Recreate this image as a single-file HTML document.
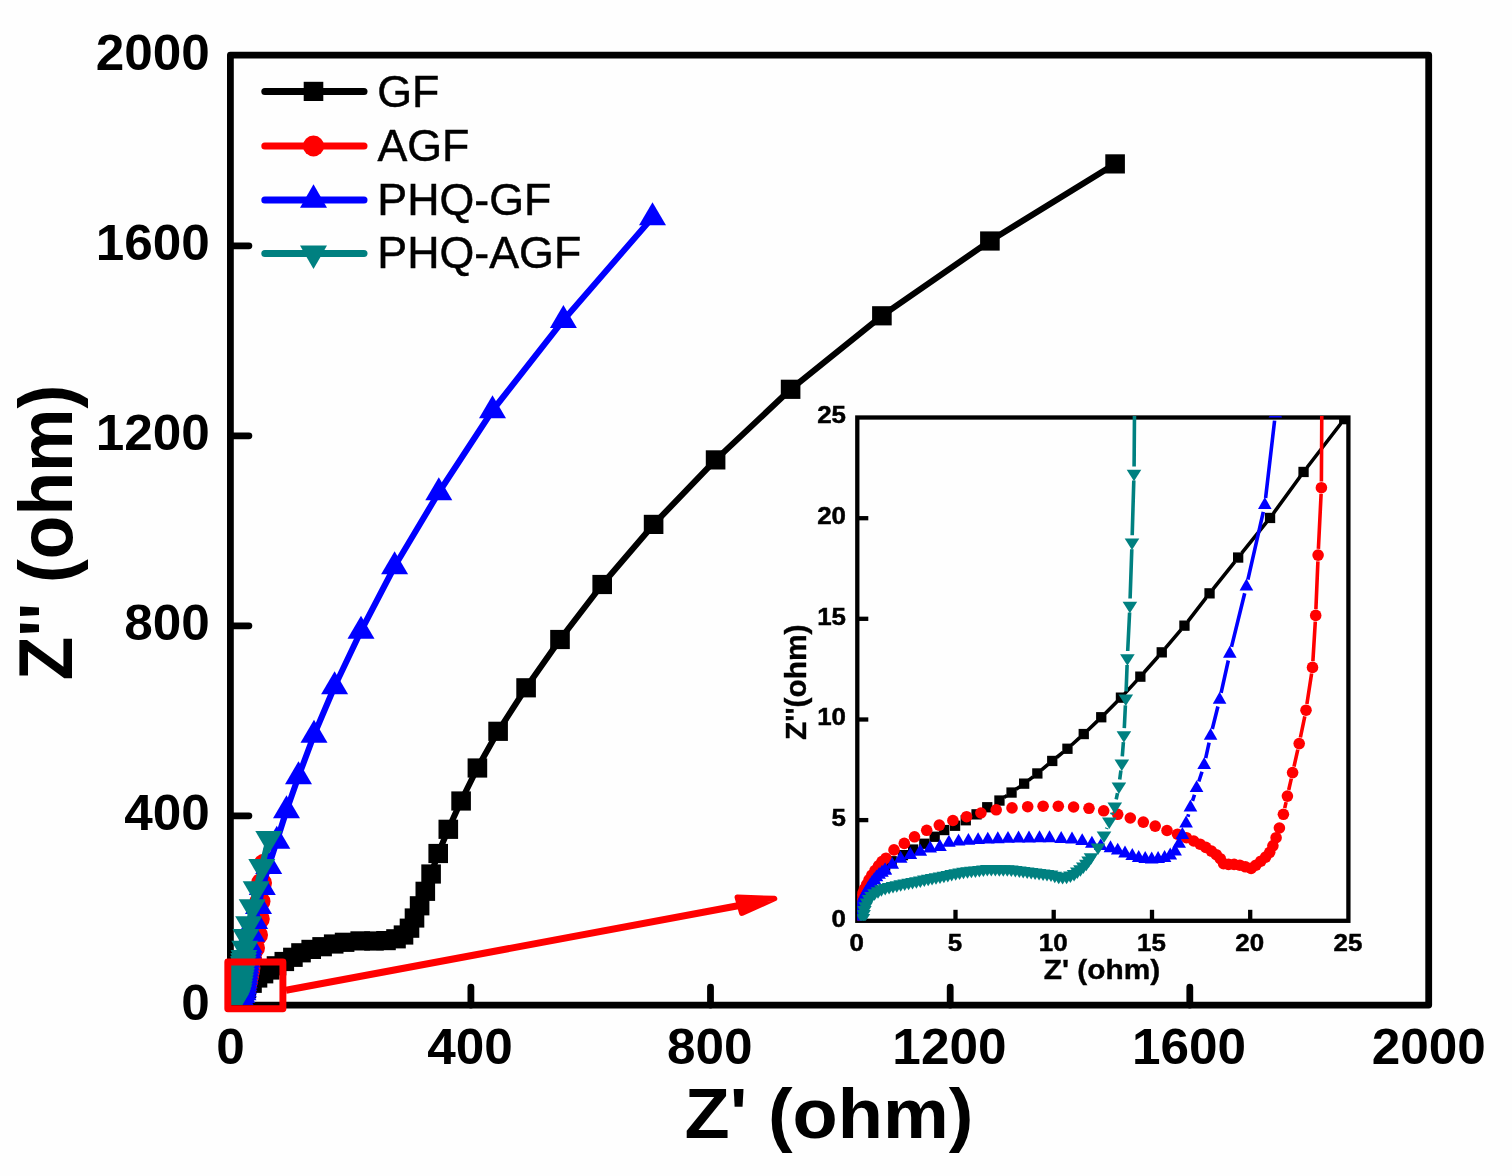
<!DOCTYPE html>
<html lang="en"><head><meta charset="utf-8"><title>Nyquist plot</title>
<style>
html,body{margin:0;padding:0;background:#fefefe;}
body{width:1512px;height:1176px;overflow:hidden;}
svg{display:block;}
</style></head><body>
<svg width="1512" height="1176" viewBox="0 0 1512 1176">
<rect width="1512" height="1176" fill="#fefefe"/>
<defs><clipPath id="cm"><rect x="230.4" y="55.1" width="1198.3" height="950"/></clipPath>
<clipPath id="ci"><rect x="857.3" y="416" width="492.6" height="504.8"/></clipPath></defs>
<g stroke="#000" stroke-width="6.8" fill="none" stroke-linecap="round" stroke-linejoin="round">
<rect x="230.4" y="55.1" width="1198.3" height="950"/>
<path d="M470.9 1005.1 V987.1"/>
<path d="M230.4 815.8 H248.9"/>
<path d="M710.5 1005.1 V987.1"/>
<path d="M230.4 625.8 H248.9"/>
<path d="M950.2 1005.1 V987.1"/>
<path d="M230.4 435.8 H248.9"/>
<path d="M1189.8 1005.1 V987.1"/>
<path d="M230.4 245.8 H248.9"/>
</g>
<g clip-path="url(#cm)">
<polyline points="1115.1,163.9 989.9,241 881.9,315.8 790.6,389.3 715.6,459.9 653.6,524.4 602.2,584.5 560,639.5 526.1,687.8 498.1,731.3 477.4,768 461.1,801 448.3,829.3 438.2,853.5 431.1,874 425.3,891.3 419.6,905.8 414.5,918 409.5,928.2 403.5,935 396,938.8 386,940.6 374,941 360.2,940.9 344.6,942.3 333.7,944 322.1,946.7 311.2,949.4 301,952.8 292.9,957.3 284.3,961.5 276.5,965.8 269.7,970 263.5,973.8 257.5,978 252,983.3 246.3,988.7 241,995 236,1001 232,1005" fill="none" stroke="#000" stroke-width="6.1" stroke-linejoin="round" stroke-linecap="round" />
<rect x="1105.3" y="154.3" width="19.6" height="19.2" fill="#000"/>
<rect x="980.1" y="231.4" width="19.6" height="19.2" fill="#000"/>
<rect x="872.1" y="306.2" width="19.6" height="19.2" fill="#000"/>
<rect x="780.8" y="379.7" width="19.6" height="19.2" fill="#000"/>
<rect x="705.8" y="450.3" width="19.6" height="19.2" fill="#000"/>
<rect x="643.8" y="514.8" width="19.6" height="19.2" fill="#000"/>
<rect x="592.4" y="574.9" width="19.6" height="19.2" fill="#000"/>
<rect x="550.2" y="629.9" width="19.6" height="19.2" fill="#000"/>
<rect x="516.3" y="678.2" width="19.6" height="19.2" fill="#000"/>
<rect x="488.3" y="721.7" width="19.6" height="19.2" fill="#000"/>
<rect x="467.6" y="758.4" width="19.6" height="19.2" fill="#000"/>
<rect x="451.3" y="791.4" width="19.6" height="19.2" fill="#000"/>
<rect x="438.5" y="819.7" width="19.6" height="19.2" fill="#000"/>
<rect x="428.4" y="843.9" width="19.6" height="19.2" fill="#000"/>
<rect x="421.3" y="864.4" width="19.6" height="19.2" fill="#000"/>
<rect x="415.5" y="881.7" width="19.6" height="19.2" fill="#000"/>
<rect x="409.8" y="896.2" width="19.6" height="19.2" fill="#000"/>
<rect x="404.7" y="908.4" width="19.6" height="19.2" fill="#000"/>
<rect x="399.7" y="918.6" width="19.6" height="19.2" fill="#000"/>
<rect x="393.7" y="925.4" width="19.6" height="19.2" fill="#000"/>
<rect x="386.2" y="929.2" width="19.6" height="19.2" fill="#000"/>
<rect x="376.2" y="931" width="19.6" height="19.2" fill="#000"/>
<rect x="364.2" y="931.4" width="19.6" height="19.2" fill="#000"/>
<rect x="350.4" y="931.3" width="19.6" height="19.2" fill="#000"/>
<rect x="334.8" y="932.7" width="19.6" height="19.2" fill="#000"/>
<rect x="323.9" y="934.4" width="19.6" height="19.2" fill="#000"/>
<rect x="312.3" y="937.1" width="19.6" height="19.2" fill="#000"/>
<rect x="301.4" y="939.8" width="19.6" height="19.2" fill="#000"/>
<rect x="291.2" y="943.2" width="19.6" height="19.2" fill="#000"/>
<rect x="283.1" y="947.7" width="19.6" height="19.2" fill="#000"/>
<rect x="274.5" y="951.9" width="19.6" height="19.2" fill="#000"/>
<rect x="266.7" y="956.2" width="19.6" height="19.2" fill="#000"/>
<rect x="259.9" y="960.4" width="19.6" height="19.2" fill="#000"/>
<rect x="253.7" y="964.2" width="19.6" height="19.2" fill="#000"/>
<rect x="247.7" y="968.4" width="19.6" height="19.2" fill="#000"/>
<rect x="242.2" y="973.7" width="19.6" height="19.2" fill="#000"/>
<rect x="236.5" y="979.1" width="19.6" height="19.2" fill="#000"/>
<rect x="234.6" y="981.4" width="19.6" height="19.2" fill="#000"/>
<rect x="232.6" y="983.7" width="19.6" height="19.2" fill="#000"/>
<rect x="230.7" y="986" width="19.6" height="19.2" fill="#000"/>
<rect x="228.8" y="988.3" width="19.6" height="19.2" fill="#000"/>
<rect x="226.9" y="990.6" width="19.6" height="19.2" fill="#000"/>
<rect x="224.8" y="992.8" width="19.6" height="19.2" fill="#000"/>
<rect x="222.7" y="994.9" width="19.6" height="19.2" fill="#000"/>
<polyline points="264,864 261.5,883 260,901.5 259.3,919 257.5,935 254.5,948 251.5,958 250,968 247.5,981 244.6,993 238,1001 231,1005" fill="none" stroke="#ff0000" stroke-width="6.1" stroke-linejoin="round" stroke-linecap="round" />
<ellipse cx="264" cy="864" rx="10.5" ry="10.3" fill="#ff0000"/>
<ellipse cx="261.5" cy="883" rx="10.5" ry="10.3" fill="#ff0000"/>
<ellipse cx="260" cy="901.5" rx="10.5" ry="10.3" fill="#ff0000"/>
<ellipse cx="259.3" cy="919" rx="10.5" ry="10.3" fill="#ff0000"/>
<ellipse cx="257.5" cy="935" rx="10.5" ry="10.3" fill="#ff0000"/>
<ellipse cx="254.5" cy="948" rx="10.5" ry="10.3" fill="#ff0000"/>
<ellipse cx="251.5" cy="958" rx="10.5" ry="10.3" fill="#ff0000"/>
<ellipse cx="250" cy="968" rx="10.5" ry="10.3" fill="#ff0000"/>
<ellipse cx="249.4" cy="970.9" rx="10.5" ry="10.3" fill="#ff0000"/>
<ellipse cx="248.9" cy="973.9" rx="10.5" ry="10.3" fill="#ff0000"/>
<ellipse cx="248.3" cy="976.8" rx="10.5" ry="10.3" fill="#ff0000"/>
<ellipse cx="247.7" cy="979.8" rx="10.5" ry="10.3" fill="#ff0000"/>
<ellipse cx="247.1" cy="982.7" rx="10.5" ry="10.3" fill="#ff0000"/>
<ellipse cx="246.4" cy="985.6" rx="10.5" ry="10.3" fill="#ff0000"/>
<ellipse cx="245.7" cy="988.5" rx="10.5" ry="10.3" fill="#ff0000"/>
<ellipse cx="245" cy="991.5" rx="10.5" ry="10.3" fill="#ff0000"/>
<ellipse cx="243.7" cy="994.1" rx="10.5" ry="10.3" fill="#ff0000"/>
<ellipse cx="241.8" cy="996.4" rx="10.5" ry="10.3" fill="#ff0000"/>
<ellipse cx="239.9" cy="998.7" rx="10.5" ry="10.3" fill="#ff0000"/>
<ellipse cx="238" cy="1001" rx="10.5" ry="10.3" fill="#ff0000"/>
<ellipse cx="235.4" cy="1002.5" rx="10.5" ry="10.3" fill="#ff0000"/>
<ellipse cx="232.8" cy="1004" rx="10.5" ry="10.3" fill="#ff0000"/>
<polyline points="652.5,217.5 563.4,320.2 492.5,410.5 438.8,492.5 394.6,566.5 361,631 334.6,686.5 314,735 298.5,776.5 286.5,810.5 276.8,841 268.7,866.4 262.3,887.3 258.5,906.3 254.6,921.3 251.7,934 249.2,945 246.5,962 244.5,978 243,993 239,1001 231,1005" fill="none" stroke="#0000ff" stroke-width="6.1" stroke-linejoin="round" stroke-linecap="round" />
<polygon points="652.5,202.2 639,225.2 666,225.2" fill="#0000ff"/>
<polygon points="563.4,304.9 549.9,327.9 576.9,327.9" fill="#0000ff"/>
<polygon points="492.5,395.2 479,418.2 506,418.2" fill="#0000ff"/>
<polygon points="438.8,477.2 425.3,500.2 452.3,500.2" fill="#0000ff"/>
<polygon points="394.6,551.2 381.1,574.2 408.1,574.2" fill="#0000ff"/>
<polygon points="361,615.7 347.5,638.7 374.5,638.7" fill="#0000ff"/>
<polygon points="334.6,671.2 321.1,694.2 348.1,694.2" fill="#0000ff"/>
<polygon points="314,719.7 300.5,742.7 327.5,742.7" fill="#0000ff"/>
<polygon points="298.5,761.2 285,784.2 312,784.2" fill="#0000ff"/>
<polygon points="286.5,795.2 273,818.2 300,818.2" fill="#0000ff"/>
<polygon points="276.8,825.7 263.3,848.7 290.3,848.7" fill="#0000ff"/>
<polygon points="268.7,851.1 255.2,874.1 282.2,874.1" fill="#0000ff"/>
<polygon points="262.3,872 248.8,895 275.8,895" fill="#0000ff"/>
<polygon points="258.5,891 245,914 272,914" fill="#0000ff"/>
<polygon points="254.6,906 241.1,929 268.1,929" fill="#0000ff"/>
<polygon points="251.7,918.7 238.2,941.7 265.2,941.7" fill="#0000ff"/>
<polygon points="249.2,929.7 235.7,952.7 262.7,952.7" fill="#0000ff"/>
<polygon points="248.7,932.6 235.2,955.6 262.2,955.6" fill="#0000ff"/>
<polygon points="248.3,935.6 234.8,958.6 261.8,958.6" fill="#0000ff"/>
<polygon points="247.8,938.6 234.3,961.6 261.3,961.6" fill="#0000ff"/>
<polygon points="247.3,941.5 233.8,964.5 260.8,964.5" fill="#0000ff"/>
<polygon points="246.8,944.5 233.3,967.5 260.3,967.5" fill="#0000ff"/>
<polygon points="246.4,947.4 232.9,970.4 259.9,970.4" fill="#0000ff"/>
<polygon points="246,950.4 232.5,973.4 259.5,973.4" fill="#0000ff"/>
<polygon points="245.7,953.4 232.2,976.4 259.2,976.4" fill="#0000ff"/>
<polygon points="245.3,956.4 231.8,979.4 258.8,979.4" fill="#0000ff"/>
<polygon points="244.9,959.4 231.4,982.4 258.4,982.4" fill="#0000ff"/>
<polygon points="244.5,962.3 231,985.3 258,985.3" fill="#0000ff"/>
<polygon points="244.2,965.3 230.7,988.3 257.7,988.3" fill="#0000ff"/>
<polygon points="243.9,968.3 230.4,991.3 257.4,991.3" fill="#0000ff"/>
<polygon points="243.6,971.3 230.1,994.3 257.1,994.3" fill="#0000ff"/>
<polygon points="243.3,974.3 229.8,997.3 256.8,997.3" fill="#0000ff"/>
<polygon points="243,977.3 229.5,1000.3 256.5,1000.3" fill="#0000ff"/>
<polygon points="241.8,980 228.3,1003 255.3,1003" fill="#0000ff"/>
<polygon points="240.5,982.7 227,1005.7 254,1005.7" fill="#0000ff"/>
<polygon points="239.2,985.3 225.7,1008.3 252.7,1008.3" fill="#0000ff"/>
<polygon points="236.6,986.8 223.1,1009.8 250.1,1009.8" fill="#0000ff"/>
<polygon points="234,988.2 220.5,1011.2 247.5,1011.2" fill="#0000ff"/>
<polygon points="231.3,989.5 217.8,1012.5 244.8,1012.5" fill="#0000ff"/>
<polyline points="268.8,838.7 261.8,866.8 256.2,889 252.2,907 248.7,924 246,936.6 244.8,948.5 243.9,957.7 242,972 240,985 238.8,993 236,1001 231,1005" fill="none" stroke="#008080" stroke-width="6.1" stroke-linejoin="round" stroke-linecap="round" />
<polygon points="268.8,854 255.3,831 282.3,831" fill="#008080"/>
<polygon points="261.8,882.1 248.3,859.1 275.3,859.1" fill="#008080"/>
<polygon points="256.2,904.3 242.7,881.3 269.7,881.3" fill="#008080"/>
<polygon points="252.2,922.3 238.7,899.3 265.7,899.3" fill="#008080"/>
<polygon points="248.7,939.3 235.2,916.3 262.2,916.3" fill="#008080"/>
<polygon points="246,951.9 232.5,928.9 259.5,928.9" fill="#008080"/>
<polygon points="244.8,963.8 231.3,940.8 258.3,940.8" fill="#008080"/>
<polygon points="243.9,973 230.4,950 257.4,950" fill="#008080"/>
<polygon points="243.5,976 230,953 257,953" fill="#008080"/>
<polygon points="243.1,979 229.6,956 256.6,956" fill="#008080"/>
<polygon points="242.7,982 229.2,959 256.2,959" fill="#008080"/>
<polygon points="242.3,984.9 228.8,961.9 255.8,961.9" fill="#008080"/>
<polygon points="241.9,987.9 228.4,964.9 255.4,964.9" fill="#008080"/>
<polygon points="241.5,990.9 228,967.9 255,967.9" fill="#008080"/>
<polygon points="241,993.8 227.5,970.8 254.5,970.8" fill="#008080"/>
<polygon points="240.5,996.8 227,973.8 254,973.8" fill="#008080"/>
<polygon points="240.1,999.8 226.6,976.8 253.6,976.8" fill="#008080"/>
<polygon points="239.6,1002.7 226.1,979.7 253.1,979.7" fill="#008080"/>
<polygon points="239.2,1005.7 225.7,982.7 252.7,982.7" fill="#008080"/>
<polygon points="238.7,1008.6 225.2,985.6 252.2,985.6" fill="#008080"/>
<polygon points="237.7,1011.5 224.2,988.5 251.2,988.5" fill="#008080"/>
<polygon points="236.7,1014.3 223.2,991.3 250.2,991.3" fill="#008080"/>
<polygon points="235.3,1016.9 221.8,993.9 248.8,993.9" fill="#008080"/>
<polygon points="233,1018.7 219.5,995.7 246.5,995.7" fill="#008080"/>
</g>
<rect x="227.8" y="962" width="55.1" height="46.8" fill="none" stroke="#ff0000" stroke-width="6.9" stroke-linejoin="round"/>
<path d="M286 990.3 L742 905" stroke="#ff0000" stroke-width="7" fill="none"/>
<polygon points="774.5,898.6 737.3,897.2 741.8,913.2" fill="#ff0000" stroke="#ff0000" stroke-width="5.5" stroke-linejoin="round"/>
<g stroke="#000" stroke-width="4.3" fill="none">
<rect x="857.3" y="417.5" width="491.1" height="503.3"/>
<path d="M955.5 920.8 V909.8"/>
<path d="M857.3 820.1 H868.3"/>
<path d="M1053.7 920.8 V909.8"/>
<path d="M857.3 719.5 H868.3"/>
<path d="M1152 920.8 V909.8"/>
<path d="M857.3 618.8 H868.3"/>
<path d="M1250.2 920.8 V909.8"/>
<path d="M857.3 518.2 H868.3"/>
</g>
<g clip-path="url(#ci)">
<path d="M1004 797.5L1007 795.6M1016 789.3L1019.7 786.8M1028.5 780.3L1033 776.8M1041.6 769.9L1048.1 764.4M1056.6 757.5L1063.2 752.1M1071.6 745L1079.7 737.7M1087.8 730.2L1097.3 721.1M1105.2 713.4L1117.1 701.5M1124.7 693.6L1136.7 680.6M1144 672.5L1158.2 656.5M1165.4 648.2L1180.9 629.8M1187.9 621.3L1206.2 597.7M1213 589.1L1234.8 561.8M1241.7 553.2L1266.6 522.2M1273.3 513.5L1300.4 476.3M1307 467.5L1340.9 423.5" fill="none" stroke="#000" stroke-width="3.6"/>
<rect x="856.2" y="906.1" width="10.3" height="10.3" fill="#000"/>
<rect x="858.6" y="898" width="10.3" height="10.3" fill="#000"/>
<rect x="861.8" y="889.9" width="10.3" height="10.3" fill="#000"/>
<rect x="866.7" y="883.5" width="10.3" height="10.3" fill="#000"/>
<rect x="864.9" y="877.9" width="10.3" height="10.3" fill="#000"/>
<rect x="869.1" y="872" width="10.3" height="10.3" fill="#000"/>
<rect x="873.9" y="865.9" width="10.3" height="10.3" fill="#000"/>
<rect x="880" y="860.4" width="10.3" height="10.3" fill="#000"/>
<rect x="886.5" y="856.1" width="10.3" height="10.3" fill="#000"/>
<rect x="897.8" y="850" width="10.3" height="10.3" fill="#000"/>
<rect x="908" y="844.4" width="10.3" height="10.3" fill="#000"/>
<rect x="919.2" y="838.6" width="10.3" height="10.3" fill="#000"/>
<rect x="929.5" y="831.6" width="10.3" height="10.3" fill="#000"/>
<rect x="939.1" y="824.9" width="10.3" height="10.3" fill="#000"/>
<rect x="949.9" y="820.6" width="10.3" height="10.3" fill="#000"/>
<rect x="960.6" y="815.1" width="10.3" height="10.3" fill="#000"/>
<rect x="971.4" y="809.2" width="10.3" height="10.3" fill="#000"/>
<rect x="982.1" y="802.1" width="10.3" height="10.3" fill="#000"/>
<rect x="994.3" y="795.4" width="10.3" height="10.3" fill="#000"/>
<rect x="1006.4" y="787.4" width="10.3" height="10.3" fill="#000"/>
<rect x="1019" y="778.5" width="10.3" height="10.3" fill="#000"/>
<rect x="1032.2" y="768.3" width="10.3" height="10.3" fill="#000"/>
<rect x="1047.1" y="755.8" width="10.3" height="10.3" fill="#000"/>
<rect x="1062.3" y="743.6" width="10.3" height="10.3" fill="#000"/>
<rect x="1078.6" y="728.9" width="10.3" height="10.3" fill="#000"/>
<rect x="1096.1" y="712.1" width="10.3" height="10.3" fill="#000"/>
<rect x="1115.8" y="692.5" width="10.3" height="10.3" fill="#000"/>
<rect x="1135.2" y="671.5" width="10.3" height="10.3" fill="#000"/>
<rect x="1156.6" y="647.2" width="10.3" height="10.3" fill="#000"/>
<rect x="1179.3" y="620.5" width="10.3" height="10.3" fill="#000"/>
<rect x="1204.4" y="588.2" width="10.3" height="10.3" fill="#000"/>
<rect x="1233" y="552.4" width="10.3" height="10.3" fill="#000"/>
<rect x="1264.9" y="512.8" width="10.3" height="10.3" fill="#000"/>
<rect x="1298.4" y="466.8" width="10.3" height="10.3" fill="#000"/>
<rect x="1339.1" y="414" width="10.3" height="10.3" fill="#000"/>
<path d="M1284.7 808.2L1286.1 802.2M1288.7 790L1291.3 778.7M1294 766.6L1297.8 749.6M1300.4 737.5L1304.8 716.3M1306.9 704.1L1311.6 673.5M1312.9 661.2L1315.3 621.6M1315.9 609.2L1317.9 561.3M1318.4 548.9L1321.1 493.9M1321.4 481.5L1321.8 411.2" fill="none" stroke="#ff0000" stroke-width="3.6"/>
<ellipse cx="857.5" cy="917" rx="5.8" ry="5.8" fill="#ff0000"/>
<ellipse cx="857.8" cy="909" rx="5.8" ry="5.8" fill="#ff0000"/>
<ellipse cx="859" cy="903.3" rx="5.8" ry="5.8" fill="#ff0000"/>
<ellipse cx="860.5" cy="898.6" rx="5.8" ry="5.8" fill="#ff0000"/>
<ellipse cx="862.5" cy="893.9" rx="5.8" ry="5.8" fill="#ff0000"/>
<ellipse cx="864.3" cy="889.2" rx="5.8" ry="5.8" fill="#ff0000"/>
<ellipse cx="866.7" cy="884.5" rx="5.8" ry="5.8" fill="#ff0000"/>
<ellipse cx="869" cy="879.9" rx="5.8" ry="5.8" fill="#ff0000"/>
<ellipse cx="871.8" cy="875.2" rx="5.8" ry="5.8" fill="#ff0000"/>
<ellipse cx="875" cy="870.5" rx="5.8" ry="5.8" fill="#ff0000"/>
<ellipse cx="878.5" cy="865.8" rx="5.8" ry="5.8" fill="#ff0000"/>
<ellipse cx="882" cy="861.6" rx="5.8" ry="5.8" fill="#ff0000"/>
<ellipse cx="886" cy="858.2" rx="5.8" ry="5.8" fill="#ff0000"/>
<ellipse cx="894" cy="849.9" rx="5.8" ry="5.8" fill="#ff0000"/>
<ellipse cx="904.3" cy="843.4" rx="5.8" ry="5.8" fill="#ff0000"/>
<ellipse cx="914.5" cy="836.8" rx="5.8" ry="5.8" fill="#ff0000"/>
<ellipse cx="926.7" cy="830.3" rx="5.8" ry="5.8" fill="#ff0000"/>
<ellipse cx="939.3" cy="825.1" rx="5.8" ry="5.8" fill="#ff0000"/>
<ellipse cx="952.9" cy="820.5" rx="5.8" ry="5.8" fill="#ff0000"/>
<ellipse cx="966.6" cy="816.7" rx="5.8" ry="5.8" fill="#ff0000"/>
<ellipse cx="980.9" cy="813" rx="5.8" ry="5.8" fill="#ff0000"/>
<ellipse cx="996.2" cy="809.8" rx="5.8" ry="5.8" fill="#ff0000"/>
<ellipse cx="1012" cy="807.9" rx="5.8" ry="5.8" fill="#ff0000"/>
<ellipse cx="1027.7" cy="806.7" rx="5.8" ry="5.8" fill="#ff0000"/>
<ellipse cx="1043.1" cy="806.2" rx="5.8" ry="5.8" fill="#ff0000"/>
<ellipse cx="1058.3" cy="806.2" rx="5.8" ry="5.8" fill="#ff0000"/>
<ellipse cx="1073.6" cy="807" rx="5.8" ry="5.8" fill="#ff0000"/>
<ellipse cx="1089" cy="808.3" rx="5.8" ry="5.8" fill="#ff0000"/>
<ellipse cx="1103.7" cy="810.8" rx="5.8" ry="5.8" fill="#ff0000"/>
<ellipse cx="1117.7" cy="814.3" rx="5.8" ry="5.8" fill="#ff0000"/>
<ellipse cx="1130.3" cy="818" rx="5.8" ry="5.8" fill="#ff0000"/>
<ellipse cx="1143.3" cy="822.1" rx="5.8" ry="5.8" fill="#ff0000"/>
<ellipse cx="1155.2" cy="826.1" rx="5.8" ry="5.8" fill="#ff0000"/>
<ellipse cx="1167" cy="830.5" rx="5.8" ry="5.8" fill="#ff0000"/>
<ellipse cx="1177.5" cy="834.2" rx="5.8" ry="5.8" fill="#ff0000"/>
<ellipse cx="1186.4" cy="837.7" rx="5.8" ry="5.8" fill="#ff0000"/>
<ellipse cx="1193.7" cy="841" rx="5.8" ry="5.8" fill="#ff0000"/>
<ellipse cx="1200.1" cy="844.2" rx="5.8" ry="5.8" fill="#ff0000"/>
<ellipse cx="1205.8" cy="847.4" rx="5.8" ry="5.8" fill="#ff0000"/>
<ellipse cx="1211.4" cy="851.1" rx="5.8" ry="5.8" fill="#ff0000"/>
<ellipse cx="1216.3" cy="854.7" rx="5.8" ry="5.8" fill="#ff0000"/>
<ellipse cx="1220.3" cy="858.7" rx="5.8" ry="5.8" fill="#ff0000"/>
<ellipse cx="1223.6" cy="863.6" rx="5.8" ry="5.8" fill="#ff0000"/>
<ellipse cx="1228.5" cy="864.4" rx="5.8" ry="5.8" fill="#ff0000"/>
<ellipse cx="1234.1" cy="864.4" rx="5.8" ry="5.8" fill="#ff0000"/>
<ellipse cx="1239.8" cy="865.2" rx="5.8" ry="5.8" fill="#ff0000"/>
<ellipse cx="1245.4" cy="866.8" rx="5.8" ry="5.8" fill="#ff0000"/>
<ellipse cx="1251.1" cy="868.4" rx="5.8" ry="5.8" fill="#ff0000"/>
<ellipse cx="1255.9" cy="865.2" rx="5.8" ry="5.8" fill="#ff0000"/>
<ellipse cx="1260.8" cy="861.2" rx="5.8" ry="5.8" fill="#ff0000"/>
<ellipse cx="1265.6" cy="857.1" rx="5.8" ry="5.8" fill="#ff0000"/>
<ellipse cx="1269.7" cy="852.3" rx="5.8" ry="5.8" fill="#ff0000"/>
<ellipse cx="1272.9" cy="845.8" rx="5.8" ry="5.8" fill="#ff0000"/>
<ellipse cx="1276.1" cy="837.7" rx="5.8" ry="5.8" fill="#ff0000"/>
<ellipse cx="1279.4" cy="828" rx="5.8" ry="5.8" fill="#ff0000"/>
<ellipse cx="1283.4" cy="814.3" rx="5.8" ry="5.8" fill="#ff0000"/>
<ellipse cx="1287.4" cy="796.1" rx="5.8" ry="5.8" fill="#ff0000"/>
<ellipse cx="1292.6" cy="772.6" rx="5.8" ry="5.8" fill="#ff0000"/>
<ellipse cx="1299.2" cy="743.6" rx="5.8" ry="5.8" fill="#ff0000"/>
<ellipse cx="1306" cy="710.2" rx="5.8" ry="5.8" fill="#ff0000"/>
<ellipse cx="1312.5" cy="667.4" rx="5.8" ry="5.8" fill="#ff0000"/>
<ellipse cx="1315.7" cy="615.4" rx="5.8" ry="5.8" fill="#ff0000"/>
<ellipse cx="1318.1" cy="555.1" rx="5.8" ry="5.8" fill="#ff0000"/>
<ellipse cx="1321.4" cy="487.7" rx="5.8" ry="5.8" fill="#ff0000"/>
<path d="M1187.9 816.8L1188.6 814.3M1192.5 800.9L1194.5 794.8M1198.8 781.5L1202 771.7M1205.7 758.2L1209.1 742.6M1212.3 729L1217.9 706.5M1221.1 692.9L1228.3 660.5M1231.5 646.9L1244.7 593.3M1247.9 579.7L1263.3 511.8M1265.6 498L1274.6 420.6" fill="none" stroke="#0000ff" stroke-width="3.6"/>
<polygon points="857,911.3 850.1,923.2 863.9,923.2" fill="#0000ff"/>
<polygon points="857.7,907.7 850.9,919.6 864.6,919.6" fill="#0000ff"/>
<polygon points="858.5,904.2 851.7,916.1 865.4,916.1" fill="#0000ff"/>
<polygon points="859.4,900.7 852.5,912.6 866.2,912.6" fill="#0000ff"/>
<polygon points="860.4,897.3 853.6,909.2 867.3,909.2" fill="#0000ff"/>
<polygon points="861.7,893.9 854.8,905.8 868.5,905.8" fill="#0000ff"/>
<polygon points="863.1,890.6 856.2,902.5 869.9,902.5" fill="#0000ff"/>
<polygon points="864.6,887.4 857.8,899.3 871.5,899.3" fill="#0000ff"/>
<polygon points="866.3,884.2 859.5,896.1 873.2,896.1" fill="#0000ff"/>
<polygon points="868.1,881.1 861.2,893 874.9,893" fill="#0000ff"/>
<polygon points="870,878 863.2,889.9 876.9,889.9" fill="#0000ff"/>
<polygon points="872.1,875 865.2,886.9 878.9,886.9" fill="#0000ff"/>
<polygon points="874.2,872.2 867.4,884.1 881.1,884.1" fill="#0000ff"/>
<polygon points="876.5,869.4 869.6,881.3 883.3,881.3" fill="#0000ff"/>
<polygon points="879.1,866.9 872.2,878.8 885.9,878.8" fill="#0000ff"/>
<polygon points="882,864.8 875.1,876.7 888.8,876.7" fill="#0000ff"/>
<polygon points="884.9,862.7 878,874.6 891.7,874.6" fill="#0000ff"/>
<polygon points="885.2,862.5 878.4,874.4 892.1,874.4" fill="#0000ff"/>
<polygon points="892.2,856.9 885.4,868.8 899.1,868.8" fill="#0000ff"/>
<polygon points="900.6,850.8 893.8,862.7 907.5,862.7" fill="#0000ff"/>
<polygon points="910.4,847.1 903.5,859 917.2,859" fill="#0000ff"/>
<polygon points="920.3,843.8 913.4,855.7 927.1,855.7" fill="#0000ff"/>
<polygon points="930.1,840.5 923.2,852.4 937,852.4" fill="#0000ff"/>
<polygon points="939.9,839.1 933,851 946.8,851" fill="#0000ff"/>
<polygon points="948.9,834.8 942,846.7 955.7,846.7" fill="#0000ff"/>
<polygon points="958.6,833.7 951.7,845.6 965.4,845.6" fill="#0000ff"/>
<polygon points="968.4,832.9 961.6,844.8 975.3,844.8" fill="#0000ff"/>
<polygon points="978.1,832.2 971.3,844.1 985,844.1" fill="#0000ff"/>
<polygon points="987.8,831.7 981,843.6 994.7,843.6" fill="#0000ff"/>
<polygon points="997.8,831.3 991,843.2 1004.7,843.2" fill="#0000ff"/>
<polygon points="1008,830.9 1001.1,842.8 1014.8,842.8" fill="#0000ff"/>
<polygon points="1018.5,830.6 1011.6,842.5 1025.3,842.5" fill="#0000ff"/>
<polygon points="1029,830.5 1022.1,842.4 1035.8,842.4" fill="#0000ff"/>
<polygon points="1039.5,830.3 1032.6,842.2 1046.3,842.2" fill="#0000ff"/>
<polygon points="1049.5,830.3 1042.7,842.2 1056.4,842.2" fill="#0000ff"/>
<polygon points="1061.2,831.1 1054.3,843 1068,843" fill="#0000ff"/>
<polygon points="1072,831.6 1065.2,843.5 1078.9,843.5" fill="#0000ff"/>
<polygon points="1082.2,833.2 1075.3,845.1 1089,845.1" fill="#0000ff"/>
<polygon points="1091.9,835.8 1085,847.7 1098.7,847.7" fill="#0000ff"/>
<polygon points="1100.8,838.2 1093.9,850.1 1107.6,850.1" fill="#0000ff"/>
<polygon points="1110.5,840.3 1103.6,852.2 1117.3,852.2" fill="#0000ff"/>
<polygon points="1117.7,842.7 1110.9,854.6 1124.6,854.6" fill="#0000ff"/>
<polygon points="1125,845.6 1118.2,857.5 1131.9,857.5" fill="#0000ff"/>
<polygon points="1132.3,848.1 1125.4,860 1139.1,860" fill="#0000ff"/>
<polygon points="1138.7,850 1131.9,861.9 1145.6,861.9" fill="#0000ff"/>
<polygon points="1145.2,851.1 1138.4,863 1152.1,863" fill="#0000ff"/>
<polygon points="1151.7,851.6 1144.8,863.5 1158.5,863.5" fill="#0000ff"/>
<polygon points="1158.1,851.1 1151.3,863 1165,863" fill="#0000ff"/>
<polygon points="1164.6,850 1157.7,861.9 1171.4,861.9" fill="#0000ff"/>
<polygon points="1170.2,847.6 1163.4,859.5 1177.1,859.5" fill="#0000ff"/>
<polygon points="1175.1,843.5 1168.2,855.4 1181.9,855.4" fill="#0000ff"/>
<polygon points="1179.1,835.9 1172.3,847.8 1186,847.8" fill="#0000ff"/>
<polygon points="1182.4,827.1 1175.5,839 1189.2,839" fill="#0000ff"/>
<polygon points="1186.1,815.6 1179.2,827.5 1192.9,827.5" fill="#0000ff"/>
<polygon points="1190.4,799.6 1183.6,811.5 1197.3,811.5" fill="#0000ff"/>
<polygon points="1196.6,780.2 1189.7,792.1 1203.4,792.1" fill="#0000ff"/>
<polygon points="1204.2,757.1 1197.3,769 1211,769" fill="#0000ff"/>
<polygon points="1210.6,727.9 1203.8,739.8 1217.4,739.8" fill="#0000ff"/>
<polygon points="1219.6,691.8 1212.8,703.7 1226.4,703.7" fill="#0000ff"/>
<polygon points="1229.8,645.8 1223,657.7 1236.6,657.7" fill="#0000ff"/>
<polygon points="1246.4,578.6 1239.6,590.5 1253.2,590.5" fill="#0000ff"/>
<polygon points="1264.8,497.1 1258,509 1271.6,509" fill="#0000ff"/>
<polygon points="1275.4,405.7 1268.6,417.6 1282.2,417.6" fill="#0000ff"/>
<path d="M889.1 886.9L891.7 886.3M905.3 883.2L923.9 879.5M937.6 876.8L956.2 873M970 870.8L980.4 869.6M994.3 868.9L1004.6 869.1M1018.5 870.1L1042.6 873.2M1106.5 828.8L1106.9 827.8M1111.7 814.7L1112.4 812.8M1116.2 799.4L1117.5 793.2M1119.7 779.4L1120.9 770.4M1122.3 756.4L1123.4 742.1M1124.3 728.1L1125.4 705.4M1126.1 691.4L1127.1 665M1127.7 651L1129.6 612.5M1130.1 598.5L1131.8 549.2M1132.2 535.2L1133.8 480.5M1134.1 466.5L1134.5 412" fill="none" stroke="#008080" stroke-width="3.6"/>
<polygon points="862.9,925.4 855.6,913.9 870.2,913.9" fill="#008080"/>
<polygon points="863.6,921.4 856.3,909.9 870.9,909.9" fill="#008080"/>
<polygon points="864.4,917.5 857.1,906 871.7,906" fill="#008080"/>
<polygon points="865.6,913.7 858.3,902.2 872.9,902.2" fill="#008080"/>
<polygon points="867.1,910 859.8,898.5 874.4,898.5" fill="#008080"/>
<polygon points="869.1,906.6 861.8,895.1 876.4,895.1" fill="#008080"/>
<polygon points="871.5,903.4 864.2,891.9 878.8,891.9" fill="#008080"/>
<polygon points="874.5,900.8 867.2,889.3 881.8,889.3" fill="#008080"/>
<polygon points="878,898.8 870.7,887.3 885.3,887.3" fill="#008080"/>
<polygon points="881.4,896.8 874.1,885.3 888.7,885.3" fill="#008080"/>
<polygon points="885.2,895.6 877.9,884.1 892.5,884.1" fill="#008080"/>
<polygon points="889.1,894.6 881.8,883.1 896.4,883.1" fill="#008080"/>
<polygon points="893,893.6 885.7,882.1 900.3,882.1" fill="#008080"/>
<polygon points="896.8,892.7 889.5,881.2 904.1,881.2" fill="#008080"/>
<polygon points="900.7,891.8 893.4,880.3 908,880.3" fill="#008080"/>
<polygon points="904.7,891 897.4,879.5 912,879.5" fill="#008080"/>
<polygon points="908.6,890.2 901.3,878.7 915.9,878.7" fill="#008080"/>
<polygon points="912.5,889.4 905.2,877.9 919.8,877.9" fill="#008080"/>
<polygon points="916.4,888.7 909.1,877.2 923.7,877.2" fill="#008080"/>
<polygon points="920.3,887.9 913,876.4 927.6,876.4" fill="#008080"/>
<polygon points="924.3,887.1 917,875.6 931.6,875.6" fill="#008080"/>
<polygon points="928.2,886.3 920.9,874.8 935.5,874.8" fill="#008080"/>
<polygon points="932.1,885.5 924.8,874 939.4,874" fill="#008080"/>
<polygon points="936,884.7 928.7,873.2 943.3,873.2" fill="#008080"/>
<polygon points="940,884 932.7,872.5 947.3,872.5" fill="#008080"/>
<polygon points="943.9,883.2 936.6,871.7 951.2,871.7" fill="#008080"/>
<polygon points="947.8,882.4 940.5,870.9 955.1,870.9" fill="#008080"/>
<polygon points="951.7,881.6 944.4,870.1 959,870.1" fill="#008080"/>
<polygon points="955.7,880.8 948.4,869.3 963,869.3" fill="#008080"/>
<polygon points="959.6,880 952.3,868.5 966.9,868.5" fill="#008080"/>
<polygon points="963.5,879.3 956.2,867.8 970.8,867.8" fill="#008080"/>
<polygon points="967.5,878.8 960.2,867.3 974.8,867.3" fill="#008080"/>
<polygon points="971.4,878.3 964.1,866.8 978.7,866.8" fill="#008080"/>
<polygon points="975.4,877.9 968.1,866.4 982.7,866.4" fill="#008080"/>
<polygon points="979.4,877.4 972.1,865.9 986.7,865.9" fill="#008080"/>
<polygon points="983.4,876.9 976.1,865.4 990.7,865.4" fill="#008080"/>
<polygon points="987.3,876.4 980,864.9 994.6,864.9" fill="#008080"/>
<polygon points="991.3,876.5 984,865 998.6,865" fill="#008080"/>
<polygon points="995.3,876.6 988,865.1 1002.6,865.1" fill="#008080"/>
<polygon points="999.3,876.7 992,865.2 1006.6,865.2" fill="#008080"/>
<polygon points="1003.3,876.7 996,865.2 1010.6,865.2" fill="#008080"/>
<polygon points="1007.3,876.8 1000,865.3 1014.6,865.3" fill="#008080"/>
<polygon points="1011.3,876.9 1004,865.4 1018.6,865.4" fill="#008080"/>
<polygon points="1015.3,877.4 1008,865.9 1022.6,865.9" fill="#008080"/>
<polygon points="1019.3,877.9 1012,866.4 1026.6,866.4" fill="#008080"/>
<polygon points="1023.2,878.4 1015.9,866.9 1030.5,866.9" fill="#008080"/>
<polygon points="1027.2,878.9 1019.9,867.4 1034.5,867.4" fill="#008080"/>
<polygon points="1031.2,879.4 1023.9,867.9 1038.5,867.9" fill="#008080"/>
<polygon points="1035.1,879.9 1027.8,868.4 1042.4,868.4" fill="#008080"/>
<polygon points="1039.1,880.4 1031.8,868.9 1046.4,868.9" fill="#008080"/>
<polygon points="1043.1,880.9 1035.8,869.4 1050.4,869.4" fill="#008080"/>
<polygon points="1047,881.4 1039.7,869.9 1054.3,869.9" fill="#008080"/>
<polygon points="1051,882.1 1043.7,870.6 1058.3,870.6" fill="#008080"/>
<polygon points="1054.8,883.2 1047.5,871.7 1062.1,871.7" fill="#008080"/>
<polygon points="1058.7,884.2 1051.4,872.7 1066,872.7" fill="#008080"/>
<polygon points="1062.6,884.5 1055.3,873 1069.9,873" fill="#008080"/>
<polygon points="1066.6,884.3 1059.3,872.8 1073.9,872.8" fill="#008080"/>
<polygon points="1070.4,883.1 1063.1,871.6 1077.7,871.6" fill="#008080"/>
<polygon points="1074.1,881.5 1066.8,870 1081.4,870" fill="#008080"/>
<polygon points="1077.3,879.1 1070,867.6 1084.6,867.6" fill="#008080"/>
<polygon points="1080.4,876.7 1073.1,865.2 1087.7,865.2" fill="#008080"/>
<polygon points="1083.3,873.9 1076,862.4 1090.6,862.4" fill="#008080"/>
<polygon points="1086.3,871.2 1079,859.7 1093.6,859.7" fill="#008080"/>
<polygon points="1088.6,868 1081.3,856.5 1095.9,856.5" fill="#008080"/>
<polygon points="1091,864.8 1083.7,853.3 1098.3,853.3" fill="#008080"/>
<polygon points="1098,855.1 1090.7,843.6 1105.3,843.6" fill="#008080"/>
<polygon points="1104,843 1096.7,831.5 1111.3,831.5" fill="#008080"/>
<polygon points="1109.3,828.9 1102,817.4 1116.6,817.4" fill="#008080"/>
<polygon points="1114.8,813.9 1107.5,802.4 1122.1,802.4" fill="#008080"/>
<polygon points="1118.9,794 1111.6,782.5 1126.2,782.5" fill="#008080"/>
<polygon points="1121.8,771.1 1114.5,759.6 1129.1,759.6" fill="#008080"/>
<polygon points="1123.9,742.8 1116.6,731.3 1131.2,731.3" fill="#008080"/>
<polygon points="1125.8,706.1 1118.5,694.6 1133.1,694.6" fill="#008080"/>
<polygon points="1127.4,665.7 1120.1,654.2 1134.7,654.2" fill="#008080"/>
<polygon points="1129.9,613.2 1122.6,601.7 1137.2,601.7" fill="#008080"/>
<polygon points="1132,549.9 1124.7,538.4 1139.3,538.4" fill="#008080"/>
<polygon points="1134,481.2 1126.7,469.7 1141.3,469.7" fill="#008080"/>
</g>
<path d="M264.8 91.4 H364" stroke="#000" stroke-width="7" stroke-linecap="round"/>
<path d="M264.8 146 H364" stroke="#ff0000" stroke-width="7" stroke-linecap="round"/>
<path d="M264.8 200 H364" stroke="#0000ff" stroke-width="7" stroke-linecap="round"/>
<path d="M264.8 253.4 H364" stroke="#008080" stroke-width="7" stroke-linecap="round"/>
<rect x="303.7" y="81.8" width="19.6" height="19.2" fill="#000"/>
<ellipse cx="313.5" cy="146" rx="10.6" ry="10.4" fill="#ff0000"/>
<polygon points="313.5,184.3 300,207.8 327,207.8" fill="#0000ff"/>
<polygon points="313.5,269.1 300,245.6 327,245.6" fill="#008080"/>
<g font-family="'Liberation Sans', Arial, Helvetica, sans-serif" fill="#000">
<text transform="translate(377.3 106.6) scale(0.995 1.000)" font-size="45" font-weight="400" text-anchor="start" stroke="#000" stroke-width="0.5">GF</text>
<text transform="translate(377.4 161.2) scale(0.995 1.000)" font-size="45" font-weight="400" text-anchor="start" stroke="#000" stroke-width="0.5">AGF</text>
<text transform="translate(377.3 214.8) scale(0.995 1.000)" font-size="45" font-weight="400" text-anchor="start" stroke="#000" stroke-width="0.5">PHQ-GF</text>
<text transform="translate(377.3 268.3) scale(0.995 1.000)" font-size="45" font-weight="400" text-anchor="start" stroke="#000" stroke-width="0.5">PHQ-AGF</text>
<text transform="translate(209.8 1019.6) scale(1.034 1.000)" font-size="49.6" font-weight="700" text-anchor="end">0</text>
<text transform="translate(230.4 1064.3) scale(1.034 1.000)" font-size="49.6" font-weight="700" text-anchor="middle">0</text>
<text transform="translate(209.8 829.6) scale(1.034 1.000)" font-size="49.6" font-weight="700" text-anchor="end">400</text>
<text transform="translate(470.1 1064.3) scale(1.034 1.000)" font-size="49.6" font-weight="700" text-anchor="middle">400</text>
<text transform="translate(209.8 639.6) scale(1.034 1.000)" font-size="49.6" font-weight="700" text-anchor="end">800</text>
<text transform="translate(709.7 1064.3) scale(1.034 1.000)" font-size="49.6" font-weight="700" text-anchor="middle">800</text>
<text transform="translate(209.8 449.6) scale(1.034 1.000)" font-size="49.6" font-weight="700" text-anchor="end">1200</text>
<text transform="translate(949.4 1064.3) scale(1.034 1.000)" font-size="49.6" font-weight="700" text-anchor="middle">1200</text>
<text transform="translate(209.8 259.6) scale(1.034 1.000)" font-size="49.6" font-weight="700" text-anchor="end">1600</text>
<text transform="translate(1189 1064.3) scale(1.034 1.000)" font-size="49.6" font-weight="700" text-anchor="middle">1600</text>
<text transform="translate(209.8 69.6) scale(1.034 1.000)" font-size="49.6" font-weight="700" text-anchor="end">2000</text>
<text transform="translate(1428.7 1064.3) scale(1.034 1.000)" font-size="49.6" font-weight="700" text-anchor="middle">2000</text>
<text transform="translate(829 1137.6) scale(1.045 1.000)" font-size="70.8" font-weight="700" text-anchor="middle">Z' (ohm)</text>
<text transform="translate(71.7 532.5) rotate(-90) scale(1.000 1.074)" font-size="71.4" font-weight="700" text-anchor="middle">Z'' (ohm)</text>
<text transform="translate(846 926.7) scale(1.045 1.000)" font-size="24.8" font-weight="700" text-anchor="end" stroke="#000" stroke-width="0.5">0</text>
<text transform="translate(856.8 950.6) scale(1.045 1.000)" font-size="24.8" font-weight="700" text-anchor="middle" stroke="#000" stroke-width="0.5">0</text>
<text transform="translate(846 826) scale(1.045 1.000)" font-size="24.8" font-weight="700" text-anchor="end" stroke="#000" stroke-width="0.5">5</text>
<text transform="translate(955 950.6) scale(1.045 1.000)" font-size="24.8" font-weight="700" text-anchor="middle" stroke="#000" stroke-width="0.5">5</text>
<text transform="translate(846 725.4) scale(1.045 1.000)" font-size="24.8" font-weight="700" text-anchor="end" stroke="#000" stroke-width="0.5">10</text>
<text transform="translate(1053.2 950.6) scale(1.045 1.000)" font-size="24.8" font-weight="700" text-anchor="middle" stroke="#000" stroke-width="0.5">10</text>
<text transform="translate(846 624.7) scale(1.045 1.000)" font-size="24.8" font-weight="700" text-anchor="end" stroke="#000" stroke-width="0.5">15</text>
<text transform="translate(1151.5 950.6) scale(1.045 1.000)" font-size="24.8" font-weight="700" text-anchor="middle" stroke="#000" stroke-width="0.5">15</text>
<text transform="translate(846 524.1) scale(1.045 1.000)" font-size="24.8" font-weight="700" text-anchor="end" stroke="#000" stroke-width="0.5">20</text>
<text transform="translate(1249.7 950.6) scale(1.045 1.000)" font-size="24.8" font-weight="700" text-anchor="middle" stroke="#000" stroke-width="0.5">20</text>
<text transform="translate(846 423.4) scale(1.045 1.000)" font-size="24.8" font-weight="700" text-anchor="end" stroke="#000" stroke-width="0.5">25</text>
<text transform="translate(1347.9 950.6) scale(1.045 1.000)" font-size="24.8" font-weight="700" text-anchor="middle" stroke="#000" stroke-width="0.5">25</text>
<text transform="translate(1102 978.7) scale(1.060 1.000)" font-size="28.2" font-weight="700" text-anchor="middle" stroke="#000" stroke-width="0.4">Z' (ohm)</text>
<text transform="translate(806 682.2) rotate(-90) scale(1.000 1.000)" font-size="29.9" font-weight="700" text-anchor="middle" stroke="#000" stroke-width="0.4">Z''(ohm)</text>
</g>
</svg>
</body></html>
